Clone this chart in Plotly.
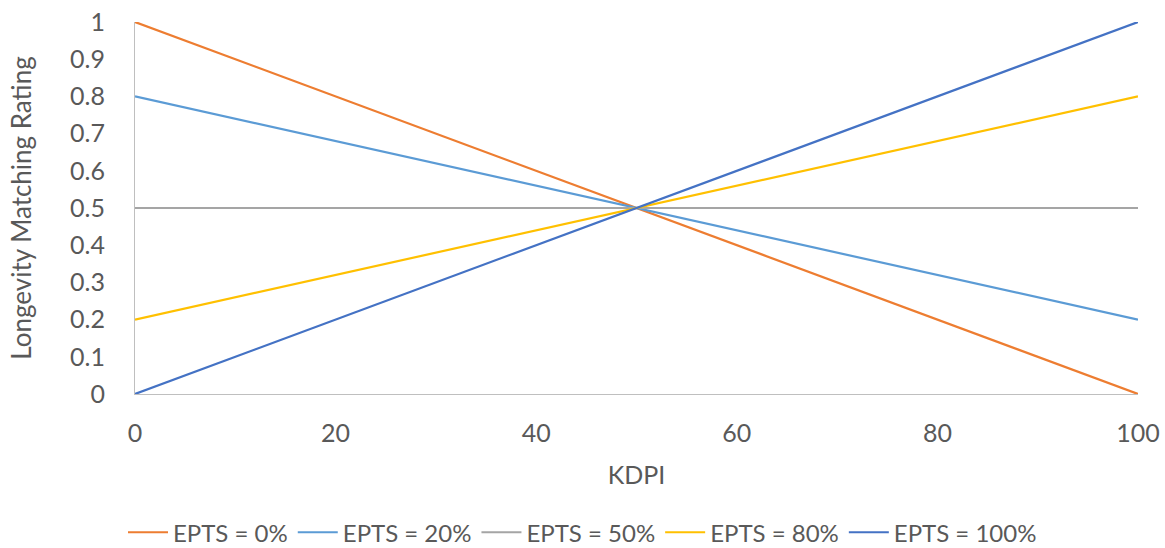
import plotly.graph_objects as go

kdpi = [0, 100]
series_names = ["EPTS = 0%", "EPTS = 20%", "EPTS = 50%", "EPTS = 80%", "EPTS = 100%"]
epts_0 = [1.0, 0.0]
epts_20 = [0.8, 0.2]
epts_50 = [0.5, 0.5]
epts_80 = [0.2, 0.8]
epts_100 = [0.0, 1.0]
colors = ["#ED7D31", "#5B9BD5", "#A5A5A5", "#FFC000", "#4472C4"]

fig = go.Figure()
for name, vals, c in zip(series_names, [epts_0, epts_20, epts_50, epts_80, epts_100], colors):
    fig.add_trace(go.Scatter(x=kdpi, y=vals, mode="lines", name=name,
                             line=dict(color=c, width=2.2)))

font_family = "Lato, 'Open Sans', sans-serif"
fig.update_layout(
    width=1165, height=548,
    margin=dict(l=135, r=27, t=22, b=154),
    paper_bgcolor="white", plot_bgcolor="white",
    font=dict(family=font_family, color="#595959"),
    showlegend=True,
    legend=dict(orientation="h", x=0.5, xanchor="center", xref="container",
                y=0.028, yanchor="middle", yref="container",
                font=dict(size=24, color="#595959"), itemwidth=40, tracegroupgap=0),
    xaxis=dict(range=[0, 100], tickvals=[0, 20, 40, 60, 80, 100], automargin=False,
               showgrid=False, zeroline=False, showline=True, linecolor="#BFBFBF", linewidth=1,
               ticks="", tickfont=dict(size=25, color="#595959"), ticklabelstandoff=17,
               title=dict(text="KDPI", font=dict(size=25, color="#595959"), standoff=20)),
    yaxis=dict(range=[0, 1], tickvals=[0, 0.1, 0.2, 0.3, 0.4, 0.5, 0.6, 0.7, 0.8, 0.9, 1],
               ticktext=["0", "0.1", "0.2", "0.3", "0.4", "0.5", "0.6", "0.7", "0.8", "0.9", "1"],
               automargin=False,
               showgrid=False, zeroline=False, showline=True, linecolor="#BFBFBF", linewidth=1,
               ticks="", tickfont=dict(size=25, color="#595959"), ticklabelstandoff=24,
               title=dict(text="Longevity Matching Rating", font=dict(size=26, color="#595959"), standoff=30)),
)

fig.write_html("out.html", config={"displayModeBar": False},
               post_script="document.body.style.margin='0px';")
